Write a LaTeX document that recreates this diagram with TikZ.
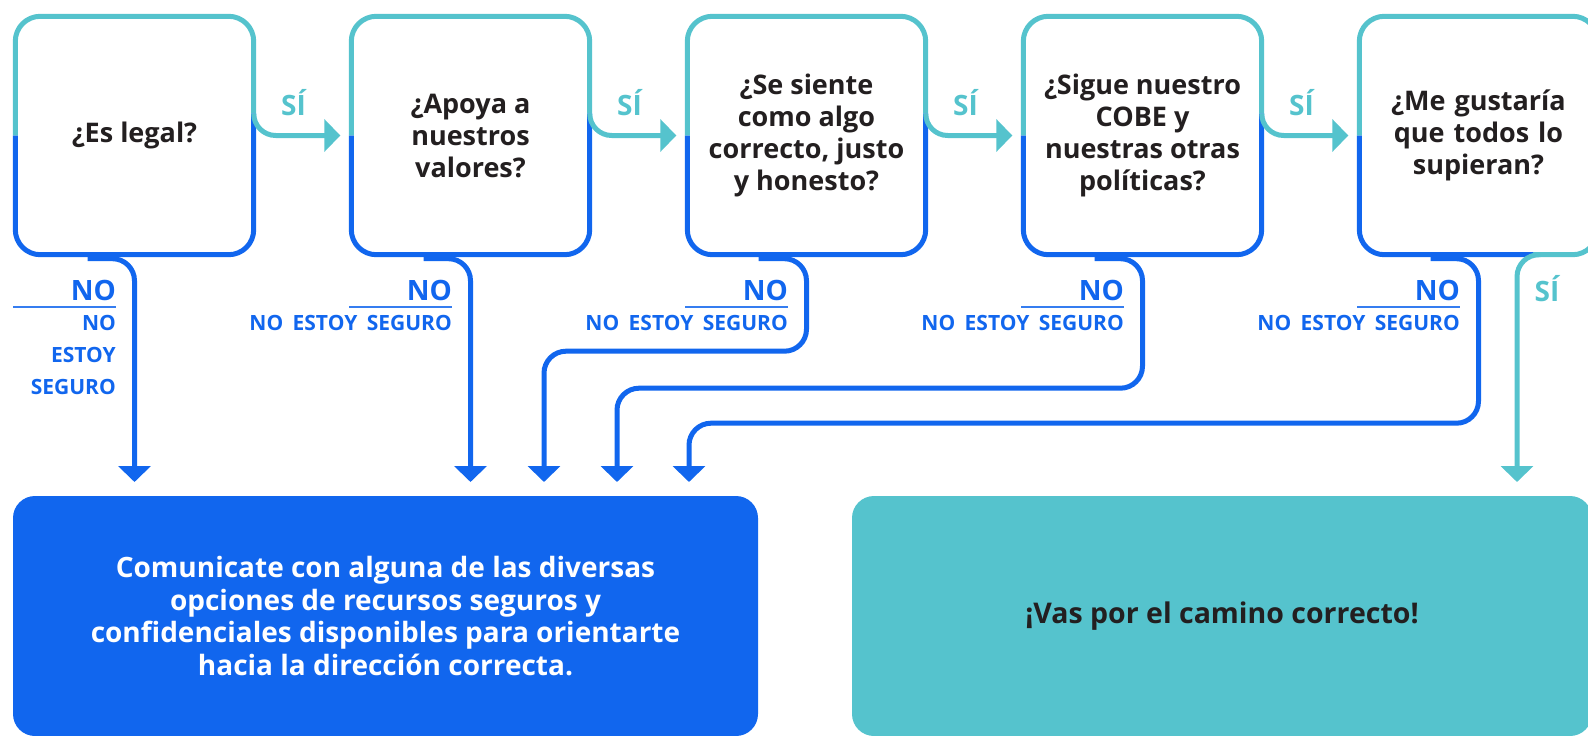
\documentclass[tikz,border=0pt]{standalone}
\usepackage{fontspec}
\setmainfont{Open Sans}
\usetikzlibrary{arrows.meta,calc}
\definecolor{cblue}{HTML}{1166EE}
\definecolor{cteal}{HTML}{55C3CD}
\definecolor{ctext}{HTML}{231F20}
\tikzset{
  qbox/.style={minimum width=238pt, minimum height=238pt, inner sep=0pt, fill=white, text=ctext,
    font=\bfseries\fontsize{27}{32}\selectfont, align=center},
  tline/.style={cteal, line width=5pt},
  bline/.style={cblue, line width=5pt},
  tipped/.style={-{Triangle[width=32pt,length=16pt]}},
  silbl/.style={text=cteal, font=\bfseries\fontsize{28}{28}\selectfont, inner sep=0pt},
  nolbl/.style={text=cblue, font=\bfseries\fontsize{28}{28}\selectfont, inner sep=0pt, anchor=east},
  nslbl/.style={text=cblue, font=\bfseries\fontsize{21}{32}\selectfont, inner sep=0pt, anchor=north east, align=right},
  rulel/.style={cblue!85, line width=1.5pt},
  endbox/.style={rounded corners=22pt, inner sep=0pt, minimum height=240pt,
    font=\bfseries\fontsize{28}{32.7}\selectfont, align=center},
}
\newcommand{\wsp}{\hspace{0.45em}}
\begin{document}
\begin{tikzpicture}[x=1pt,y=-1pt]
\useasboundingbox (0,0) rectangle (1588,736);
\clip (0,0) rectangle (1588,736);

% question boxes
\node[qbox] (q1) at (134.5,135.5) {¿Es legal?};
\node[qbox] (q2) at (470.5,135.5) {¿Apoya a\\nuestros\\valores?};
\node[qbox] (q3) at (806.5,135.5) {¿Se siente\\como algo\\correcto, justo\\y honesto?};
\node[qbox] (q4) at (1142.5,135.5) {¿Sigue nuestro\\COBE y\\nuestras otras\\políticas?};
\node[qbox, text width=200pt] (q5) at (1478.5,135.5) {¿Me gustaría\\que todos lo\\supieran?};

% end boxes
\node[endbox, fill=cblue, text=white, minimum width=745pt] (act) at (385.5,616)
  {Comunicate con alguna de las diversas\\opciones de recursos seguros y\\confidenciales disponibles para orientarte\\hacia la dirección correcta.};
\node[endbox, fill=cteal, text=ctext, minimum width=740pt, font=\bfseries\fontsize{28.5}{32.7}\selectfont] (ok) at (1222,616) {¡Vas por el camino correcto!};

% two-colour borders
\foreach \q in {q1,q2,q3,q4}{
  \draw[tline, rounded corners=25pt] (\q.west) -- (\q.north west) -- (\q.north east) -- ($(\q.east)+(0,-22)$);
  \draw[bline, rounded corners=25pt] (\q.west) -- (\q.south west) -- (\q.south east) -- ($(\q.east)+(0,-22)$);
}
\draw[tline, rounded corners=25pt] (q5.west) -- (q5.north west) -- (q5.north east) -- (q5.south east) -- ($(q5.south)+(54.5,0)$);
\draw[bline, rounded corners=25pt] (q5.west) -- (q5.south west) -- ($(q5.south)+(54.5,0)$);

% SI connectors
\draw[tline, tipped, rounded corners=22pt] ($(q1.east)+(0,-22)$) |- ($(q2.west)+(-11,0)$);
\draw[tline, tipped, rounded corners=22pt] ($(q2.east)+(0,-22)$) |- ($(q3.west)+(-11,0)$);
\draw[tline, tipped, rounded corners=22pt] ($(q3.east)+(0,-22)$) |- ($(q4.west)+(-11,0)$);
\draw[tline, tipped, rounded corners=22pt] ($(q4.east)+(0,-22)$) |- ($(q5.west)+(-11,0)$);

\node[silbl] (s1) at (293.5,103) {SÍ};
\node[silbl] (s2) at (629.5,103) {SÍ};
\node[silbl] (s3) at (965.5,103) {SÍ};
\node[silbl] (s4) at (1301.5,103) {SÍ};
\node[silbl] (s5) at (1547,289) {SÍ};

% arrow end points
\coordinate (a1) at (134.5,482);
\coordinate (a2) at (470.5,482);
\coordinate (a3) at (544,482);
\coordinate (a4) at (617,482);
\coordinate (a5) at (689,482);
\coordinate (a6) at (1517,482);

% NO connectors
\draw[bline, tipped, rounded corners=22pt] ($(q1.south)+(-47,4)$) -| (a1);
\draw[bline, tipped, rounded corners=22pt] ($(q2.south)+(-47,4)$) -| (a2);
\draw[bline, tipped, rounded corners=22pt] ($(q3.south)+(-48,4)$) -| ($(q3.south)+(0,96.5)$) -| (a3);
\draw[bline, tipped, rounded corners=22pt] ($(q4.south)+(-48,4)$) -| ($(q4.south)+(0,133.5)$) -| (a4);
\draw[bline, tipped, rounded corners=22pt] ($(q5.south)+(-48,4)$) -| ($(q5.south)+(0,168.5)$) -| (a5);

% final SI connector
\draw[tline, tipped, rounded corners=22pt] ($(q5.south)+(62,0)$) -| (a6);

% NO labels
\node[nolbl] (no1) at (116,290) {NO};
\node[nolbl] (no2) at (452,290) {NO};
\node[nolbl] (no3) at (788,290) {NO};
\node[nolbl] (no4) at (1124,290) {NO};
\node[nolbl] (no5) at (1460,290) {NO};
\draw[rulel] (13,307) -- (116,307);
\draw[rulel] (349,307) -- (452,307);
\draw[rulel] (685,307) -- (788,307);
\draw[rulel] (1021,307) -- (1124,307);
\draw[rulel] (1357,307) -- (1460,307);
\node[nslbl] (ns1) at (116,315.5) {NO\\ESTOY\\SEGURO};
\node[nslbl] (ns2) at (452,315.5) {NO\wsp ESTOY\wsp SEGURO};
\node[nslbl] (ns3) at (788,315.5) {NO\wsp ESTOY\wsp SEGURO};
\node[nslbl] (ns4) at (1124,315.5) {NO\wsp ESTOY\wsp SEGURO};
\node[nslbl] (ns5) at (1460,315.5) {NO\wsp ESTOY\wsp SEGURO};
\end{tikzpicture}
\end{document}
